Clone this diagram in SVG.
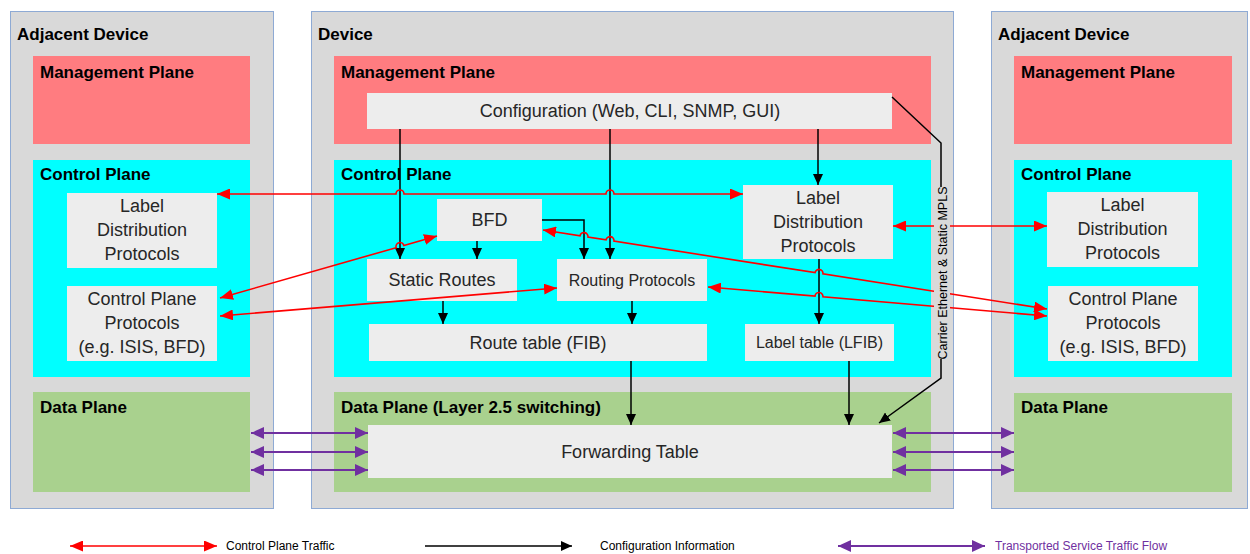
<svg xmlns="http://www.w3.org/2000/svg" width="1250" height="554" viewBox="0 0 1250 554">
<style>
.panel{fill:#d9d9d9;stroke:#8eaad4;stroke-width:1}
.mgmt{fill:#ff7c80}
.ctrl{fill:#00ffff}
.data{fill:#a9d18e}
.box{fill:#ededed}
.h{font-family:"Liberation Sans",Arial,sans-serif;font-weight:bold;font-size:17px;fill:#000}
.t{font-family:"Liberation Sans",Arial,sans-serif;font-size:18px;fill:#262626;text-anchor:middle}
.ts{font-family:"Liberation Sans",Arial,sans-serif;font-size:16px;fill:#262626;text-anchor:middle}
.red{fill:none;stroke:#ff0000;stroke-width:1.6;marker-start:url(#rS);marker-end:url(#rE)}
.blk{fill:none;stroke:#000;stroke-width:1.5;marker-end:url(#bE)}
.pur{fill:none;stroke:#7030a0;stroke-width:2;marker-start:url(#pS);marker-end:url(#pE)}
.leg{font-family:"Liberation Sans",Arial,sans-serif;font-size:12px;fill:#000}
</style>
<defs>
<marker id="rE" markerUnits="userSpaceOnUse" markerWidth="13" markerHeight="11" refX="13" refY="5.5" orient="auto"><path d="M0,0 L13,5.5 L0,11 z" fill="#ff0000"/></marker>
<marker id="rS" markerUnits="userSpaceOnUse" markerWidth="13" markerHeight="11" refX="13" refY="5.5" orient="auto-start-reverse"><path d="M0,0 L13,5.5 L0,11 z" fill="#ff0000"/></marker>
<marker id="bE" markerUnits="userSpaceOnUse" markerWidth="11" markerHeight="10" refX="11" refY="5" orient="auto"><path d="M0,0 L11,5 L0,10 z" fill="#000"/></marker>
<marker id="pE" markerUnits="userSpaceOnUse" markerWidth="13" markerHeight="12" refX="13" refY="6" orient="auto"><path d="M0,0 L13,6 L0,12 z" fill="#7030a0"/></marker>
<marker id="pS" markerUnits="userSpaceOnUse" markerWidth="13" markerHeight="12" refX="13" refY="6" orient="auto-start-reverse"><path d="M0,0 L13,6 L0,12 z" fill="#7030a0"/></marker>
</defs>
<rect width="1250" height="554" fill="#fff"/>

<!-- Left adjacent device -->
<g id="left-device">
<rect class="panel" x="10.5" y="11.5" width="263" height="497"/>
<text class="h" x="17" y="40">Adjacent Device</text>
<rect class="mgmt" x="33" y="56" width="217" height="88"/>
<text class="h" x="40" y="78">Management Plane</text>
<rect class="ctrl" x="33" y="160" width="217" height="217"/>
<text class="h" x="40" y="180">Control Plane</text>
<rect class="data" x="33" y="392" width="217" height="100"/>
<text class="h" x="40" y="413">Data Plane</text>
</g>
<g id="left-ldp">
<rect class="box" x="67" y="193" width="150" height="75"/>
<text class="t" x="142" y="212">Label</text>
<text class="t" x="142" y="236">Distribution</text>
<text class="t" x="142" y="260">Protocols</text>
</g>
<g id="left-cpp">
<rect class="box" x="67" y="286" width="150" height="75"/>
<text class="t" x="142" y="305">Control Plane</text>
<text class="t" x="142" y="329">Protocols</text>
<text class="t" x="142" y="353">(e.g. ISIS, BFD)</text>
</g>

<!-- Device -->
<g id="device">
<rect class="panel" x="311.5" y="11.5" width="642" height="497"/>
<text class="h" x="318" y="40">Device</text>
<rect class="mgmt" x="334" y="56" width="597" height="88"/>
<text class="h" x="341" y="78">Management Plane</text>
<rect class="ctrl" x="334" y="160" width="597" height="217"/>
<text class="h" x="341" y="180">Control Plane</text>
<rect class="data" x="334" y="392" width="597" height="100"/>
<text class="h" x="341" y="413">Data Plane (Layer 2.5 switching)</text>
</g>
<g id="config">
<rect class="box" x="367" y="93" width="525" height="36"/>
<text class="t" x="630" y="117">Configuration (Web, CLI, SNMP, GUI)</text>
</g>
<g id="bfd">
<rect class="box" x="437" y="199" width="105" height="42"/>
<text class="t" x="489.5" y="226">BFD</text>
</g>
<g id="static-routes">
<rect class="box" x="367" y="259" width="150" height="42"/>
<text class="t" x="442" y="286">Static Routes</text>
</g>
<g id="routing-protocols">
<rect class="box" x="557" y="259" width="150" height="42"/>
<text class="ts" x="632" y="286">Routing Protocols</text>
</g>
<g id="route-table">
<rect class="box" x="369" y="324" width="338" height="37"/>
<text class="t" x="538" y="349">Route table (FIB)</text>
</g>
<g id="device-ldp">
<rect class="box" x="743" y="185" width="150" height="74"/>
<text class="t" x="818" y="204">Label</text>
<text class="t" x="818" y="228">Distribution</text>
<text class="t" x="818" y="252">Protocols</text>
</g>
<g id="label-table">
<rect class="box" x="745" y="324" width="149" height="37"/>
<text class="ts" x="819.5" y="348">Label table (LFIB)</text>
</g>
<g id="forwarding-table">
<rect class="box" x="368" y="425" width="524" height="53"/>
<text class="t" x="630" y="458">Forwarding Table</text>
</g>

<!-- Right adjacent device -->
<g id="right-device">
<rect class="panel" x="991.5" y="11.5" width="256" height="497"/>
<text class="h" x="998" y="40">Adjacent Device</text>
<rect class="mgmt" x="1014" y="56" width="218" height="88"/>
<text class="h" x="1021" y="78">Management Plane</text>
<rect class="ctrl" x="1014" y="160" width="218" height="217"/>
<text class="h" x="1021" y="180">Control Plane</text>
<rect class="data" x="1014" y="393" width="218" height="99"/>
<text class="h" x="1021" y="413">Data Plane</text>
</g>
<g id="right-ldp">
<rect class="box" x="1047" y="192" width="151" height="75"/>
<text class="t" x="1122.5" y="211">Label</text>
<text class="t" x="1122.5" y="235">Distribution</text>
<text class="t" x="1122.5" y="259">Protocols</text>
</g>
<g id="right-cpp">
<rect class="box" x="1048" y="286" width="150" height="75"/>
<text class="t" x="1123" y="305">Control Plane</text>
<text class="t" x="1123" y="329">Protocols</text>
<text class="t" x="1123" y="353">(e.g. ISIS, BFD)</text>
</g>

<!-- Connectors -->
<g id="connectors">
<!-- configuration (black) -->
<path class="blk" d="M400,129 V259"/>
<path class="blk" d="M610,129 V259"/>
<path class="blk" d="M818,129 V185"/>
<path class="blk" d="M477,241 V259"/>
<path class="blk" d="M542,220 H584 V259"/>
<path class="blk" d="M443,301 V324"/>
<path class="blk" d="M632,301 V324"/>
<path class="blk" d="M631,361 V425"/>
<path class="blk" d="M819,259 V324"/>
<path class="blk" d="M849,361 V425"/>
<path class="blk" d="M892,97 L941,143 V378 L879,423"/>
<!-- control plane traffic (red) -->
<path class="red" d="M217,194 H396 A4,4 0 0 1 404,194 H606 A4,4 0 0 1 614,194 H743"/>
<path class="red" d="M220,298 L396.15,247.67 A4,4 0 0 1 403.85,245.47 L437,236"/>
<path class="red" d="M220,316 L557,288"/>
<path class="red" d="M543,230 L580.05,235.81 A4,4 0 0 1 587.95,237.05 L606.05,239.88 A4,4 0 0 1 613.95,241.12 L815.05,272.64 A4,4 0 0 1 822.95,273.88 L1047,309"/>
<path class="red" d="M708,287 L815.01,296.16 A4,4 0 0 1 822.99,296.84 L1047,316"/>
<path class="red" d="M893,226 H1047"/>
<!-- transported service traffic (purple) -->
<path class="pur" d="M251,433 H368"/>
<path class="pur" d="M251,452 H368"/>
<path class="pur" d="M251,470 H368"/>
<path class="pur" d="M893,433 H1014"/>
<path class="pur" d="M893,452 H1014"/>
<path class="pur" d="M893,470 H1014"/>
</g>

<g id="carrier-label">
<rect x="934" y="187" width="16" height="172" fill="#d9d9d9"/>
<text transform="translate(946.5,273) rotate(-90)" text-anchor="middle" font-family="Liberation Sans, Arial, sans-serif" font-size="12.5" fill="#000">Carrier Ethernet &amp; Static MPLS</text>
</g>

<!-- Legend -->
<g id="legend">
<path class="red" d="M70,546 H217"/>
<text class="leg" x="226" y="550">Control Plane Traffic</text>
<path class="blk" d="M425,546 H572"/>
<text class="leg" x="600" y="550">Configuration Information</text>
<path class="pur" d="M838,546 H985"/>
<text class="leg" x="995" y="550" style="fill:#7030a0">Transported Service Traffic Flow</text>
</g>
</svg>
